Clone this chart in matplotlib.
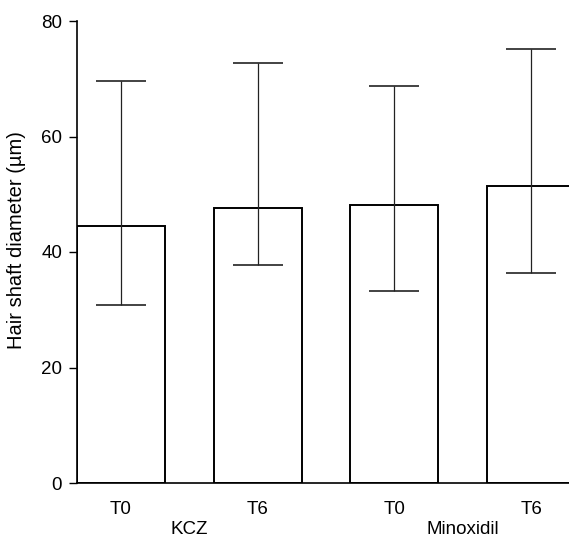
import matplotlib
matplotlib.use("Agg")
import matplotlib.pyplot as plt

plt.rcParams['font.family'] = ['Liberation Sans', 'DejaVu Sans']

tick_labels = ["T0", "T6", "T0", "T6"]
groups = ["KCZ", "Minoxidil"]
means = [44.5, 47.7, 48.2, 51.4]
upper = [69.6, 72.8, 68.7, 75.2]
lower = [30.9, 37.7, 33.2, 36.4]

W, H = 569, 545
ax_left, ax_bottom, ax_top = 77, 483, 21
fig = plt.figure(figsize=(W / 100, H / 100), dpi=100)
ax = fig.add_axes([ax_left / W, 1 - ax_bottom / H, 1 - ax_left / W, (ax_bottom - ax_top) / H])

x = list(range(len(means)))
yerr = [[m - l for m, l in zip(means, lower)], [u - m for m, u in zip(means, upper)]]
ax.bar(x, means, width=0.644, color="white", edgecolor="black", linewidth=1.4, zorder=2)
ax.errorbar(x, means, yerr=yerr, fmt="none", ecolor="#222222", elinewidth=0.9,
            capsize=18, capthick=1.2, zorder=3)

ax.set_xlim(-0.322, 3.277)
ax.set_ylim(0, 80)
ax.set_yticks([0, 20, 40, 60, 80])
ax.tick_params(axis='y', direction='out', length=5.8, width=1, labelsize=13.5, pad=5)
ax.set_xticks(x)
ax.set_xticklabels(tick_labels, fontsize=13.5)
ax.tick_params(axis='x', length=0, pad=13)
for s in ["top", "right"]:
    ax.spines[s].set_visible(False)
ax.spines["left"].set_linewidth(1.2)
ax.spines["bottom"].set_linewidth(1.2)
ax.set_ylabel("Hair shaft diameter (µm)", fontsize=14.5)
ax.yaxis.set_label_coords(-0.104, 0.526)

ax.text(0.5, -0.1017, groups[0], transform=ax.get_xaxis_transform(), ha="center", va="center", fontsize=13.5)
ax.text(2.5, -0.1017, groups[1], transform=ax.get_xaxis_transform(), ha="center", va="center", fontsize=13.5)

fig.savefig("out.png", dpi=100)
